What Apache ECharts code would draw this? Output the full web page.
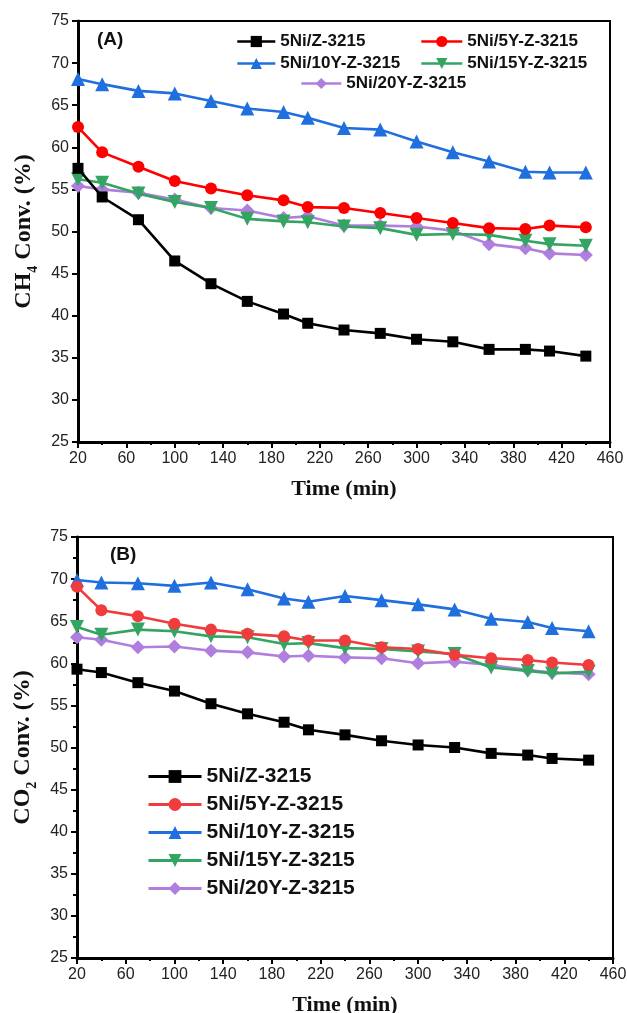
<!DOCTYPE html>
<html>
<head>
<meta charset="utf-8">
<script src="https://cdn.jsdelivr.net/npm/echarts@6/dist/echarts.min.js"></script>
<style>
  html, body { margin: 0; padding: 0; background: #fff; }
  #chart { width: 627px; height: 1013px; }
</style>
</head>
<body>
<div id="chart"></div>
<script>
// Reaction time on stream (min)
const times = [20, 40, 70, 100, 130, 160, 190, 210, 240, 270, 300, 330, 360, 390, 410, 440];

const sampleNames = ['5Ni/Z-3215', '5Ni/5Y-Z-3215', '5Ni/10Y-Z-3215', '5Ni/15Y-Z-3215', '5Ni/20Y-Z-3215'];

// CH4 conversion (%)
const ch4_Z   = [57.5, 54.1, 51.4, 46.5, 43.8, 41.7, 40.2, 39.1, 38.3, 37.9, 37.2, 36.9, 36.0, 36.0, 35.8, 35.2];
const ch4_5Y  = [62.4, 59.4, 57.7, 56.0, 55.1, 54.3, 53.7, 52.9, 52.8, 52.2, 51.6, 51.0, 50.4, 50.3, 50.7, 50.5];
const ch4_10Y = [68.1, 67.5, 66.7, 66.4, 65.5, 64.6, 64.2, 63.5, 62.3, 62.1, 60.7, 59.4, 58.3, 57.1, 57.0, 57.0];
const ch4_15Y = [56.2, 55.8, 54.5, 53.5, 52.8, 51.5, 51.2, 51.1, 50.6, 50.4, 49.6, 49.7, 49.6, 48.9, 48.5, 48.3];
const ch4_20Y = [55.4, 55.0, 54.6, 53.8, 52.8, 52.5, 51.6, 51.8, 50.7, 50.7, 50.6, 50.1, 48.5, 48.0, 47.4, 47.2];

// CO2 conversion (%)
const co2_Z   = [59.3, 58.9, 57.7, 56.7, 55.2, 54.0, 53.0, 52.1, 51.5, 50.8, 50.3, 50.0, 49.3, 49.1, 48.7, 48.5];
const co2_5Y  = [69.1, 66.3, 65.6, 64.7, 64.0, 63.5, 63.2, 62.7, 62.7, 61.9, 61.7, 61.0, 60.6, 60.4, 60.1, 59.8];
const co2_10Y = [69.9, 69.6, 69.5, 69.2, 69.6, 68.8, 67.7, 67.3, 68.0, 67.5, 67.0, 66.4, 65.3, 64.9, 64.2, 63.8];
const co2_15Y = [64.3, 63.4, 64.0, 63.8, 63.2, 63.1, 62.3, 62.4, 61.8, 61.7, 61.4, 61.1, 59.5, 59.1, 58.8, 59.0];
const co2_20Y = [63.1, 62.8, 61.9, 62.0, 61.5, 61.3, 60.8, 60.9, 60.7, 60.6, 60.0, 60.2, 59.8, 59.2, 58.9, 58.7];

// Y-axis tick values
const yMin = 25, yMax = 75, yStep = 5;
// X-axis tick values
const xMin = 20, xMax = 460, xStep = 40;

const ch4Sets = [ch4_Z, ch4_5Y, ch4_10Y, ch4_15Y, ch4_20Y];
const co2Sets = [co2_Z, co2_5Y, co2_10Y, co2_15Y, co2_20Y];

const topColors = ['#000000', '#ff0000', '#1f6fde', '#34a462', '#b07ede'];
const botColors = ['#000000', '#f03c3c', '#1f6fde', '#34a462', '#b07ede'];
const symbols = ['rect', 'circle', 'triangle', 'triangle', 'diamond'];
const rotations = [0, 0, 0, 180, 0];
const symbolSizes = [11, 12, 14, 14, 14];

const SANS = "'Liberation Sans', Arial, sans-serif";
const SERIF = "'Liberation Serif', 'Times New Roman', serif";

function pairs(ys) { return times.map((t, i) => [t, ys[i]]); }

function makeSeries(sets, colors, axisIdx) {
  return sets.map((ys, k) => ({
    name: sampleNames[k],
    type: 'line',
    xAxisIndex: axisIdx,
    yAxisIndex: axisIdx,
    data: pairs(ys),
    symbol: symbols[k],
    symbolRotate: rotations[k],
    symbolSize: symbolSizes[k],
    showSymbol: true,
    lineStyle: { color: colors[k], width: 2.6 },
    itemStyle: { color: colors[k] },
    z: 10 - k,
    animation: false
  }));
}

function makeXAxis(gridIdx) {
  return {
    type: 'value', gridIndex: gridIdx,
    min: xMin, max: xMax, interval: xStep,
    name: 'Time (min)', nameLocation: 'middle', nameGap: 36,
    nameTextStyle: { fontFamily: SERIF, fontWeight: 'bold', fontSize: 22, color: '#111' },
    axisLine: { show: true, lineStyle: { color: '#000', width: 3 } },
    axisTick: { show: true, inside: false, length: 6, lineStyle: { color: '#000', width: 2 } },
    minorTick: { show: true, splitNumber: 2, length: 3, lineStyle: { color: '#000', width: 2 } },
    axisLabel: { fontFamily: SANS, fontSize: 16, color: '#222', margin: 9 },
    splitLine: { show: false }
  };
}

function makeYAxis(gridIdx, gasMain, gasSub, minor) {
  return {
    type: 'value', gridIndex: gridIdx,
    min: yMin, max: yMax, interval: yStep,
    name: '{m|' + gasMain + '}{s|' + gasSub + '}{m| Conv. (%)}',
    nameLocation: 'middle', nameGap: 38, nameRotate: 90,
    nameTextStyle: {
      rich: {
        m: { fontFamily: SERIF, fontWeight: 'bold', fontSize: 24, color: '#111', lineHeight: 28, verticalAlign: 'top' },
        s: { fontFamily: SERIF, fontWeight: 'bold', fontSize: 14, color: '#111', lineHeight: 14, padding: [15, 0, 0, 0] }
      }
    },
    axisLine: { show: true, lineStyle: { color: '#000', width: 3 } },
    axisTick: { show: true, inside: false, length: 6, lineStyle: { color: '#000', width: 2 } },
    minorTick: { show: minor, splitNumber: 2, length: 4, lineStyle: { color: '#000', width: 2 } },
    axisLabel: { fontFamily: SANS, fontSize: 16, color: '#222', margin: 9 },
    splitLine: { show: false }
  };
}

// Single-entry legends for the two-column key of panel (A)
function topLegend(k, left, top, w) {
  return {
    data: [{ name: sampleNames[k], itemStyle: { color: topColors[k] }, lineStyle: { color: topColors[k], width: 2.6 } }],
    left: left, top: top, padding: 0,
    itemWidth: w, itemHeight: 14,
    symbolRotate: 'inherit',
    selectedMode: false,
    textStyle: { fontFamily: SANS, fontWeight: 'bold', fontSize: 17, color: '#111' }
  };
}

const chart = echarts.init(document.getElementById('chart'), null, { renderer: 'canvas' });

chart.setOption({
  animation: false,
  backgroundColor: '#fff',
  grid: [
    { left: 78, top: 21, width: 532, height: 421, outerBoundsMode: 'none', show: true, borderColor: '#000', borderWidth: 2, backgroundColor: 'transparent' },
    { left: 77, top: 537, width: 536, height: 421, outerBoundsMode: 'none', show: true, borderColor: '#000', borderWidth: 2, backgroundColor: 'transparent' }
  ],
  xAxis: [makeXAxis(0), makeXAxis(1)],
  yAxis: [makeYAxis(0, 'CH', '4', false), makeYAxis(1, 'CO', '2', true)],
  legend: [
    topLegend(0, 236, 33, 38),
    topLegend(1, 420, 33, 41),
    topLegend(2, 236, 55, 38),
    topLegend(3, 420, 55, 41),
    topLegend(4, 300, 75, 40),
    {
      data: sampleNames.map((n, k) => ({ name: n, itemStyle: { color: botColors[k] }, lineStyle: { color: botColors[k], width: 3 } })),
      orient: 'vertical',
      left: 147, top: 766, padding: 0,
      itemWidth: 53, itemHeight: 16, itemGap: 7,
      symbolRotate: 'inherit',
      selectedMode: false,
      textStyle: { fontFamily: SANS, fontWeight: 'bold', fontSize: 21, color: '#111' }
    }
  ],
  graphic: [
    { type: 'text', left: 97, top: 30, style: { text: '(A)', font: "bold 19px 'Liberation Sans', Arial, sans-serif", fill: '#111' } },
    { type: 'text', left: 110, top: 545, style: { text: '(B)', font: "bold 19px 'Liberation Sans', Arial, sans-serif", fill: '#111' } }
  ],
  series: makeSeries(ch4Sets, topColors, 0).concat(makeSeries(co2Sets, botColors, 1))
});
</script>
</body>
</html>
